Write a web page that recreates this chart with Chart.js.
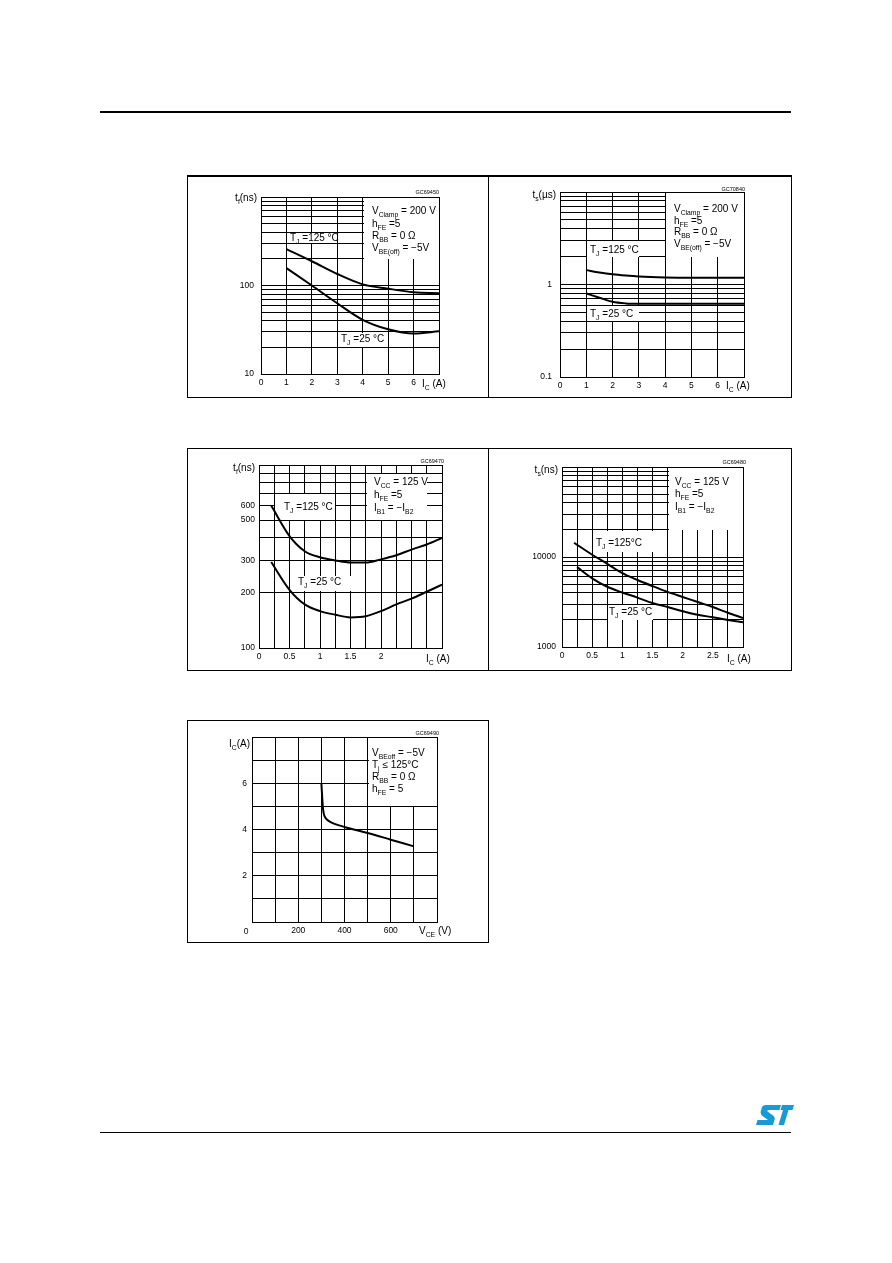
<!DOCTYPE html>
<html>
<head>
<meta charset="utf-8">
<script src="https://cdn.jsdelivr.net/npm/chart.js@4.4.0/dist/chart.umd.min.js"></script>
<style>
  body { margin: 0; background: #fff; }
  #page { position: relative; width: 892px; height: 1263px; overflow: hidden; background: #fff; }
  .rule { position: absolute; left: 100px; width: 691px; background: #000; }
  .panel { position: absolute; }
  .panel canvas { position: absolute; left: 0; top: 0; }
  .frame { position: absolute; left: 0; top: 0; right: 0; bottom: 0; border: 1px solid #000; box-sizing: border-box; pointer-events: none; }
  #logo { position: absolute; left: 754px; top: 1104px; }
</style>
</head>
<body>
<div id="page">
  <div class="rule" style="top:111px;height:2px"></div>
  <div class="panel" style="left:187px;top:175px;width:302px;height:223px"><canvas id="c1" width="302" height="223"></canvas><div class="frame" style="border-top-width:2px"></div></div>
  <div class="panel" style="left:488px;top:175px;width:304px;height:223px"><canvas id="c2" width="304" height="223"></canvas><div class="frame" style="border-top-width:2px"></div></div>
  <div class="panel" style="left:187px;top:448px;width:302px;height:223px"><canvas id="c3" width="302" height="223"></canvas><div class="frame"></div></div>
  <div class="panel" style="left:488px;top:448px;width:304px;height:223px"><canvas id="c4" width="304" height="223"></canvas><div class="frame"></div></div>
  <div class="panel" style="left:187px;top:720px;width:302px;height:223px"><canvas id="c5" width="302" height="223"></canvas><div class="frame"></div></div>
  <div class="rule" style="top:1132px;height:1px"></div>
  <svg id="logo" width="40" height="22" viewBox="0 0 40 22">
    <path fill="#179ad6" d="M12,1 L27,1 L25.5,6 L14.5,6 Q13,6 13.5,7.5 L19,11.5 Q21.5,13.5 20.5,16 L19,21 L2,21 L3.5,16 L14,16 L8.5,12 Q6,10 6.8,7 L8,3 Q9,1 12,1 Z"/>
    <path fill="#179ad6" d="M28,1 L40,1 L38.5,6 L34.5,6 L30,21 L24.5,21 L29,6 L26.5,6 Z"/>
  </svg>
</div>
<script>
// Fig 1: fall time vs Ic (inductive load)
const ic1 = [1, 2, 3, 4, 5, 6, 7];
const tf1Hot = [258, 188, 135, 103, 92, 84, 82];
const tf1Cold = [157, 100, 63, 41, 32, 28.6, 30.4];

// Fig 2: storage time vs Ic (inductive load)
const ic2 = [1, 1.5, 2, 2.5, 3, 4, 5, 6, 7];
const ts2Hot = [1.43, 1.35, 1.29, 1.25, 1.22, 1.19, 1.18, 1.18, 1.18];
const ts2Cold = [0.80, 0.72, 0.65, 0.625, 0.62, 0.62, 0.62, 0.62, 0.62];

// Fig 3: fall time vs Ic (resistive load)
const ic3 = [0.2, 0.5, 0.75, 1, 1.25, 1.5, 1.75, 2, 2.25, 2.5, 2.75, 3];
const tf3Hot = [600, 409, 338, 313, 301, 293, 293, 305, 321, 345, 368, 400];
const tf3Cold = [295, 208, 173, 159, 152, 147, 149, 159, 173, 186, 203, 222];

// Fig 4: storage time vs Ic (resistive load)
const ic4Hot = [0.2, 0.5, 0.75, 1, 1.25, 1.5, 1.75, 2, 2.25, 2.5, 2.75, 3];
const ts4Hot = [14400, 10600, 8400, 6600, 5550, 4750, 4100, 3600, 3160, 2780, 2400, 2100];
const ic4Cold = [0.25, 0.5, 0.75, 1, 1.25, 1.5, 1.75, 2, 2.25, 2.5, 2.75, 3];
const ts4Cold = [7710, 5800, 4670, 4030, 3540, 3080, 2780, 2500, 2280, 2140, 2000, 1880];

// Fig 5: reverse biased SOA
const vce5 = [300, 303, 306, 310, 315, 325, 340, 400, 500, 600, 700];
const ic5 = [6.0, 5.5, 5.0, 4.7, 4.55, 4.42, 4.32, 4.11, 3.85, 3.56, 3.27];

// axis ticks
const xGridInt = [0, 1, 2, 3, 4, 5, 6, 7];
const xLabelsInt = [0, 1, 2, 3, 4, 5, 6];
const xGridQuarter = [0, 0.25, 0.5, 0.75, 1, 1.25, 1.5, 1.75, 2, 2.25, 2.5, 2.75, 3];
const xLabels3 = [0, 0.5, 1, 1.5, 2];
const xLabels4 = [0, 0.5, 1, 1.5, 2, 2.5];
const yLabels1 = [10, 100];
const yLabels2 = [0.1, 1];
const yLabels3 = [100, 200, 300, 500, 600];
const yLabels4 = [1000, 10000];
const xGrid5 = [0, 100, 200, 300, 400, 500, 600, 700, 800];
const xLabels5 = [200, 400, 600];
const yGrid5 = [0, 1, 2, 3, 4, 5, 6, 7, 8];
const yLabels5 = [2, 4, 6];

const FONT = '"Liberation Sans", Arial, Helvetica, sans-serif';

function logGrid(min, max) {
  const out = [];
  for (let d = min; d < max; d *= 10) {
    for (let k = 1; k < 10; k++) out.push(+(d * k).toPrecision(6));
  }
  out.push(max);
  return out;
}

function pts(xs, ys) {
  return xs.map((x, i) => ({ x: x, y: ys[i] }));
}

function drawRich(ctx, str, x, y, size, align) {
  const parts = [];
  str.split(/(_\{[^}]*\})/).forEach(s => {
    if (!s) return;
    if (s.startsWith('_{')) parts.push({ t: s.slice(2, -1), sub: true });
    else parts.push({ t: s, sub: false });
  });
  let w = 0;
  parts.forEach(p => {
    ctx.font = (p.sub ? size * 0.68 : size) + 'px ' + FONT;
    p.w = ctx.measureText(p.t).width;
    w += p.w;
  });
  let cx = x;
  if (align === 'right') cx = x - w;
  if (align === 'center') cx = x - w / 2;
  ctx.textAlign = 'left';
  ctx.textBaseline = 'alphabetic';
  ctx.fillStyle = '#000';
  parts.forEach(p => {
    ctx.font = (p.sub ? size * 0.68 : size) + 'px ' + FONT;
    ctx.fillText(p.t, cx, p.sub ? y + size * 0.3 : y);
    cx += p.w;
  });
}

const decor = {
  id: 'decor',
  beforeDatasetsDraw(chart, args, opts) {
    const ctx = chart.ctx, xs = chart.scales.x, ys = chart.scales.y;
    ctx.save();
    ctx.fillStyle = '#fff';
    (opts.boxes || []).forEach(b => {
      const l = Math.round(xs.getPixelForValue(b[0])) + 1;
      const r = Math.round(xs.getPixelForValue(b[1]));
      const t = Math.round(ys.getPixelForValue(b[3])) + 1;
      const btm = Math.round(ys.getPixelForValue(b[2]));
      ctx.fillRect(l, t, r - l, btm - t);
    });
    ctx.restore();
  },
  afterDraw(chart, args, opts) {
    const ctx = chart.ctx;
    ctx.save();
    (opts.texts || []).forEach(t => drawRich(ctx, t.s, t.x, t.y, t.size || 10, t.align));
    ctx.restore();
  }
};

function makeChart(id, c) {
  const series = c.series.map(s => ({
    data: s,
    showLine: true,
    borderColor: '#000',
    borderWidth: 2,
    pointRadius: 0,
    fill: false,
    cubicInterpolationMode: 'monotone'
  }));
  const tickFont = { family: FONT, size: 8.5 };
  return new Chart(document.getElementById(id), {
    type: 'scatter',
    data: { datasets: series },
    plugins: [decor],
    options: {
      responsive: false,
      animation: false,
      events: [],
      layout: { autoPadding: false, padding: { left: 0, top: c.area.top, right: c.area.right, bottom: 0 } },
      plugins: {
        legend: { display: false },
        tooltip: { enabled: false },
        decor: { boxes: c.boxes, texts: c.texts }
      },
      scales: {
        x: {
          type: 'linear', min: c.x.min, max: c.x.max,
          afterBuildTicks: s => { s.ticks = c.x.grid.map(v => ({ value: v })); },
          afterFit: s => { s.height = c.area.xh; },
          grid: { color: '#000', lineWidth: 1, drawTicks: false },
          border: { color: '#000', width: 1 },
          ticks: {
            autoSkip: false, maxRotation: 0, padding: 4, color: '#000', font: tickFont,
            callback: v => c.x.labels.includes(v) ? String(v) : ''
          }
        },
        y: {
          type: c.y.type, min: c.y.min, max: c.y.max,
          afterBuildTicks: s => { s.ticks = c.y.grid.map(v => ({ value: v })); },
          afterFit: s => { s.width = c.area.yw; },
          grid: { color: '#000', lineWidth: 1, drawTicks: false },
          border: { color: '#000', width: 1 },
          ticks: {
            autoSkip: false, padding: c.y.pad, color: '#000', font: tickFont,
            callback: v => c.y.labels.includes(v) ? String(v) : ''
          }
        }
      }
    }
  });
}

makeChart('c1', {
  series: [pts(ic1, tf1Hot), pts(ic1, tf1Cold)],
  area: { top: 22, right: 50, xh: 24, yw: 74 },
  x: { min: 0, max: 7, grid: xGridInt, labels: xLabelsInt },
  y: { type: 'logarithmic', min: 10, max: 1000, grid: logGrid(10, 1000), labels: yLabels1, pad: 7 },
  boxes: [[4, 7, 200, 1000], [1, 3, 300, 400], [3, 5, 20, 30]],
  texts: [
    { x: 252, y: 19, s: 'GC69450', size: 5.5, align: 'right' },
    { x: 70, y: 26, s: 't_{f}(ns)' },
    { x: 235, y: 212, s: 'I_{C} (A)' },
    { x: 185, y: 39, s: 'V_{Clamp} = 200 V' },
    { x: 185, y: 52, s: 'h_{FE} =5' },
    { x: 185, y: 64, s: 'R_{BB} = 0 Ω' },
    { x: 185, y: 76, s: 'V_{BE(off)} = −5V' },
    { x: 103, y: 66, s: 'T_{J} =125 °C' },
    { x: 154, y: 167, s: 'T_{J} =25 °C' }
  ].map(t => t.align ? t : Object.assign(t, { align: t.x < 74 ? 'right' : 'left' }))
});

makeChart('c2', {
  series: [pts(ic2, ts2Hot), pts(ic2, ts2Cold)],
  area: { top: 17, right: 48, xh: 21, yw: 72 },
  x: { min: 0, max: 7, grid: xGridInt, labels: xLabelsInt },
  y: { type: 'logarithmic', min: 0.1, max: 10, grid: logGrid(0.1, 10), labels: yLabels2, pad: 8 },
  boxes: [[4, 7, 2, 10], [1, 3, 2, 3], [1, 3, 0.4, 0.6]],
  texts: [
    { x: 257, y: 16, s: 'GC70840', size: 5.5, align: 'right' },
    { x: 68, y: 23, s: 't_{s}(µs)', align: 'right' },
    { x: 238, y: 214, s: 'I_{C} (A)' },
    { x: 186, y: 37, s: 'V_{Clamp} = 200 V' },
    { x: 186, y: 49, s: 'h_{FE} =5' },
    { x: 186, y: 60, s: 'R_{BB} = 0 Ω' },
    { x: 186, y: 72, s: 'V_{BE(off)} = −5V' },
    { x: 102, y: 78, s: 'T_{J} =125 °C' },
    { x: 102, y: 142, s: 'T_{J} =25 °C' }
  ]
});

makeChart('c3', {
  series: [pts(ic3, tf3Hot), pts(ic3, tf3Cold)],
  area: { top: 17, right: 47, xh: 23, yw: 72 },
  x: { min: 0, max: 3, grid: xGridQuarter, labels: xLabels3 },
  y: { type: 'logarithmic', min: 100, max: 1000, grid: logGrid(100, 1000), labels: yLabels3, pad: 4 },
  boxes: [[1.75, 2.75, 500, 900], [0.25, 1.25, 500, 700], [0.5, 1.5, 205, 250]],
  texts: [
    { x: 257, y: 15, s: 'GC69470', size: 5.5, align: 'right' },
    { x: 68, y: 23, s: 't_{f}(ns)', align: 'right' },
    { x: 239, y: 214, s: 'I_{C} (A)' },
    { x: 187, y: 37, s: 'V_{CC} = 125 V' },
    { x: 187, y: 50, s: 'h_{FE} =5' },
    { x: 187, y: 63, s: 'I_{B1} = −I_{B2}' },
    { x: 97, y: 62, s: 'T_{J} =125 °C' },
    { x: 111, y: 137, s: 'T_{J} =25 °C' }
  ]
});

makeChart('c4', {
  series: [pts(ic4Hot, ts4Hot), pts(ic4Cold, ts4Cold)],
  area: { top: 19, right: 49, xh: 24, yw: 74 },
  x: { min: 0, max: 3, grid: xGridQuarter, labels: xLabels4 },
  y: { type: 'logarithmic', min: 1000, max: 100000, grid: logGrid(1000, 100000), labels: yLabels4, pad: 6 },
  boxes: [[1.75, 3, 20000, 100000], [0.5, 1.5, 11500, 20000], [0.75, 1.5, 2000, 3000]],
  texts: [
    { x: 258, y: 16, s: 'GC69480', size: 5.5, align: 'right' },
    { x: 70, y: 25, s: 't_{s}(ns)', align: 'right' },
    { x: 239, y: 214, s: 'I_{C} (A)' },
    { x: 187, y: 37, s: 'V_{CC} = 125 V' },
    { x: 187, y: 49, s: 'h_{FE} =5' },
    { x: 187, y: 62, s: 'I_{B1} = −I_{B2}' },
    { x: 108, y: 98, s: 'T_{J} =125°C' },
    { x: 121, y: 167, s: 'T_{J} =25 °C' }
  ]
});

makeChart('c5', {
  series: [pts(vce5, ic5)],
  area: { top: 17, right: 52, xh: 21, yw: 65 },
  x: { min: 0, max: 800, grid: xGrid5, labels: xLabels5 },
  y: { type: 'linear', min: 0, max: 8, grid: yGrid5, labels: yLabels5, pad: 5 },
  boxes: [[500, 800, 5, 8]],
  texts: [
    { x: 252, y: 15, s: 'GC69490', size: 5.5, align: 'right' },
    { x: 63, y: 27, s: 'I_{C}(A)', align: 'right' },
    { x: 59, y: 214, s: '0', size: 8.5, align: 'center' },
    { x: 232, y: 214, s: 'V_{CE} (V)' },
    { x: 185, y: 36, s: 'V_{BEoff} = −5V' },
    { x: 185, y: 48, s: 'T_{j} ≤ 125°C' },
    { x: 185, y: 60, s: 'R_{BB} = 0 Ω' },
    { x: 185, y: 72, s: 'h_{FE} = 5' }
  ]
});
</script>
</body>
</html>
